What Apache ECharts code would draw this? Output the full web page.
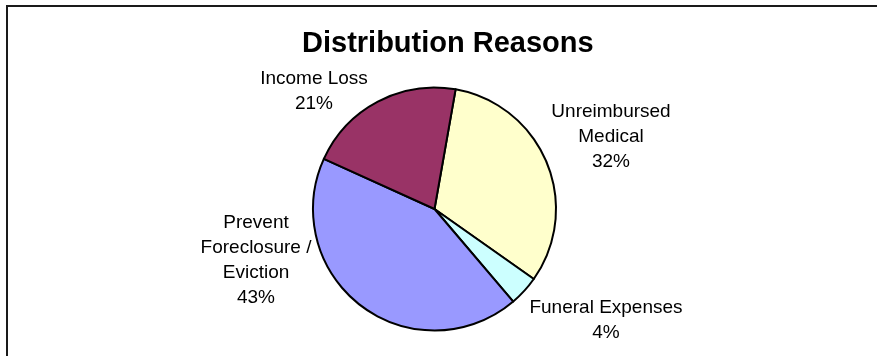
<!DOCTYPE html>
<html>
<head>
<meta charset="utf-8">
<script src="https://cdn.jsdelivr.net/npm/echarts@6/dist/echarts.min.js"></script>
<style>
  html, body { margin: 0; padding: 0; background: #fff; }
  #chart { width: 877px; height: 356px; }
</style>
</head>
<body>
<div id="chart"></div>
<script>
  // slice names and values, clockwise from the first slice
  const categories = ['Unreimbursed\nMedical', 'Funeral Expenses', 'Prevent\nForeclosure /\nEviction', 'Income Loss'];
  const values = [32, 4, 43, 21];
  const colors = ['#FFFFCC', '#CCFFFF', '#9999FF', '#993366'];

  // where each label block sits (centre, px)
  const labelPos = [[611, 137], [606, 320], [256, 260], [314, 91]];

  const chart = echarts.init(document.getElementById('chart'));

  const option = {
    animation: false,
    title: {
      text: 'Distribution Reasons',
      left: 297,
      top: 24,
      textStyle: {
        fontFamily: 'Liberation Sans',
        fontSize: 29,
        fontWeight: 'bold',
        color: '#000',
      },
    },
    graphic: [
      {
        type: 'rect',
        shape: { x: 7, y: 6, width: 1000, height: 1000 },
        style: { fill: 'none', stroke: '#1a1a1a', lineWidth: 2 },
        silent: true,
      },
    ],
    series: [
      {
        type: 'pie',
        center: [434.5, 209],
        radius: 121.5,
        startAngle: 80,
        clockwise: true,
        data: categories.map((name, i) => ({
          name,
          value: values[i],
          itemStyle: { color: colors[i] },
        })),
        itemStyle: {
          borderColor: '#000',
          borderWidth: 2,
        },
        label: {
          show: true,
          position: 'outside',
          formatter: (p) => p.name + '\n' + Math.round(p.percent) + '%',
          fontFamily: 'Liberation Sans',
          fontSize: 19,
          lineHeight: 25,
          color: '#000',
          align: 'center',
        },
        labelLine: { show: false },
        labelLayout: (params) => ({
          x: labelPos[params.dataIndex][0],
          y: labelPos[params.dataIndex][1],
          align: 'center',
          verticalAlign: 'middle',
        }),
        emphasis: { disabled: true },
      },
    ],
  };

  chart.setOption(option);
</script>
</body>
</html>
